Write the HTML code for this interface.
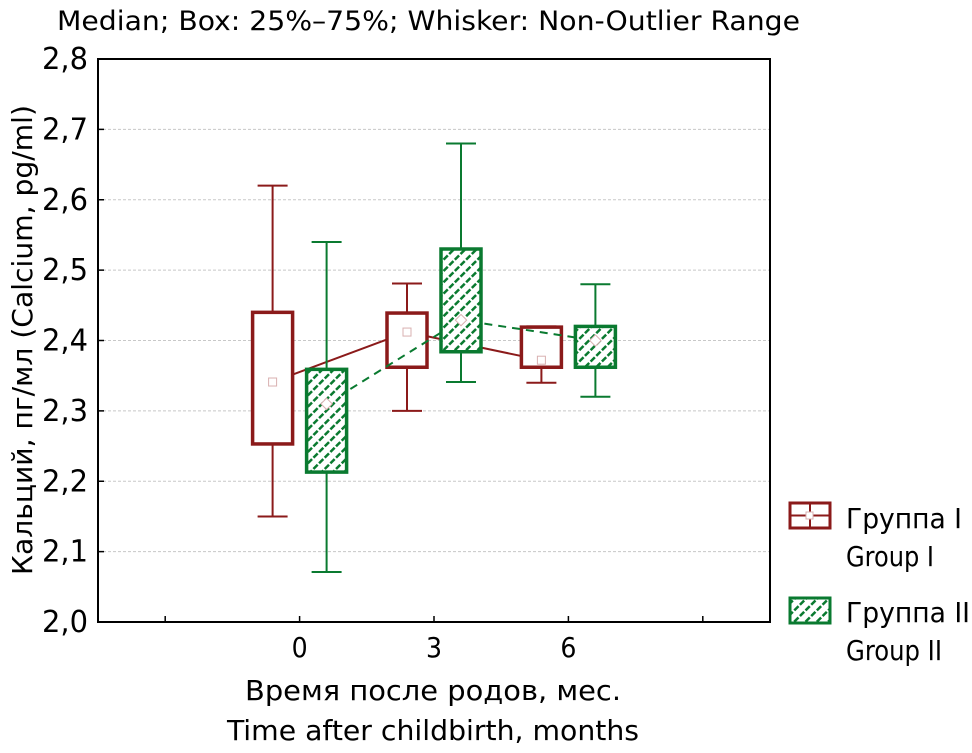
<!DOCTYPE html>
<html><head><meta charset="utf-8"><style>
body{margin:0;background:#fff}
svg{display:block;font-family:"DejaVu Sans Condensed","DejaVu Sans","Liberation Sans",sans-serif}
</style></head><body>
<svg id="chart" width="972" height="753" viewBox="0 0 972 753">
<defs>
<pattern id="hatch" patternUnits="userSpaceOnUse" width="8" height="8" patternTransform="rotate(45)">
<rect width="8" height="8" fill="#fff"/>
<line x1="0" y1="0" x2="0" y2="8" stroke="#0a7a30" stroke-width="5" stroke-dasharray="6 2"/>
</pattern>
</defs>
<text x="57" y="30" font-size="27" textLength="743" lengthAdjust="spacingAndGlyphs">Median; Box: 25%–75%; Whisker: Non-Outlier Range</text>
<g id="grid"></g>
<g id="plot"></g>
<rect x="98" y="59" width="672" height="563" fill="none" stroke="#000" stroke-width="2"/>
<text transform="translate(32,340) rotate(-90)" text-anchor="middle" font-size="28" textLength="470" lengthAdjust="spacingAndGlyphs">Кальций, пг/мл (Calcium, pg/ml)</text>
<text x="433" y="700" text-anchor="middle" font-size="28" textLength="376" lengthAdjust="spacingAndGlyphs">Время после родов, мес.</text>
<text x="433" y="740" text-anchor="middle" font-size="28" textLength="412" lengthAdjust="spacingAndGlyphs">Time after childbirth, months</text>
<g>
<g>
<rect x="790" y="503" width="40" height="25" fill="#fff" stroke="#8b1a1a" stroke-width="3"/>
<line x1="790" y1="515.5" x2="830" y2="515.5" stroke="#8b1a1a" stroke-width="2"/>
<line x1="810" y1="503" x2="810" y2="528" stroke="#8b1a1a" stroke-width="2"/>
<rect x="806" y="512" width="7" height="7" fill="#fff" stroke="#d9b0b0"/>
<text x="846" y="528" font-size="28" textLength="116" lengthAdjust="spacingAndGlyphs">Группа I</text>
<text x="846" y="566" font-size="28" textLength="88" lengthAdjust="spacingAndGlyphs">Group I</text>
</g>
<g>
<rect x="790" y="598" width="40" height="25" fill="url(#hatch)" stroke="#0a7a30" stroke-width="3"/>
<text x="846" y="622" font-size="28" textLength="124" lengthAdjust="spacingAndGlyphs">Группа II</text>
<text x="846" y="660" font-size="28" textLength="96" lengthAdjust="spacingAndGlyphs">Group II</text>
</g>
</g>
</svg>
<script>
const categories = ['0','3','6'];
const yTicks = [2.0,2.1,2.2,2.3,2.4,2.5,2.6,2.7,2.8];
const yTickLabels = ['2,0','2,1','2,2','2,3','2,4','2,5','2,6','2,7','2,8'];
const g1Min = [2.15,2.30,2.34];
const g1Q1 = [2.253,2.362,2.362];
const g1Median = [2.341,2.412,2.372];
const g1Q3 = [2.44,2.439,2.419];
const g1Max = [2.62,2.481,2.42];
const g2Min = [2.071,2.341,2.32];
const g2Q1 = [2.213,2.384,2.362];
const g2Median = [2.31,2.429,2.40];
const g2Q3 = [2.359,2.53,2.42];
const g2Max = [2.54,2.68,2.48];

const NS='http://www.w3.org/2000/svg';
const L=98,R=770,T=59,B=622,ymin=2.0,ymax=2.8;
const y=v=>B-(v-ymin)/(ymax-ymin)*(B-T);
const slot=(R-L)/5;
const x=i=>L+slot*(i+1.5);
function mk(tag,attrs,parent){const e=document.createElementNS(NS,tag);for(const k in attrs)e.setAttribute(k,attrs[k]);parent.appendChild(e);return e;}
const grid=document.getElementById('grid'), plot=document.getElementById('plot'), svg=document.getElementById('chart');
yTicks.forEach((t,i)=>{
  if(i>0&&i<yTicks.length-1){const gl=mk('line',{x1:L,x2:R,y1:y(t),y2:y(t),stroke:'#c8c8c8','stroke-width':1,'stroke-dasharray':'3 2'},grid);
  
  }
  const tk=mk('line',{x1:L,x2:L+6,y1:y(t),y2:y(t),stroke:'#000','stroke-width':1.5},grid);
  
  
  const lb=mk('text',{x:88,y:y(t)+10,'text-anchor':'end','font-size':30,textLength:46,lengthAdjust:'spacingAndGlyphs'},svg);
  lb.textContent=yTickLabels[i];
  
  
});
for(let k=0;k<5;k++){const xx=L+slot*(k+0.5);
  const tk=mk('line',{x1:xx,x2:xx,y1:B,y2:B-6,stroke:'#000','stroke-width':1.5},grid);
  
  }
categories.forEach((c,i)=>{const lb=mk('text',{x:x(i),y:657,'text-anchor':'middle','font-size':28},svg);
  lb.textContent=c;
  
  });
function series(name,off,col,fill,mn,q1,md,q3,mx,dash){
  const pts=md.map((v,i)=>(x(i)+off)+','+y(v)).join(' ');
  const ln=mk('polyline',{points:pts,fill:'none',stroke:col,'stroke-width':2,'stroke-dasharray':dash},plot);
  
  
  categories.forEach((c,i)=>{
    const cx=x(i)+off;
    const g=mk('g',{},plot);
    
    
    mk('line',{x1:cx,x2:cx,y1:y(mx[i]),y2:y(q3[i]),stroke:col,'stroke-width':2},g);
    mk('line',{x1:cx,x2:cx,y1:y(q1[i]),y2:y(mn[i]),stroke:col,'stroke-width':2},g);
    mk('line',{x1:cx-15,x2:cx+15,y1:y(mx[i]),y2:y(mx[i]),stroke:col,'stroke-width':2},g);
    mk('line',{x1:cx-15,x2:cx+15,y1:y(mn[i]),y2:y(mn[i]),stroke:col,'stroke-width':2},g);
    mk('rect',{x:cx-20,y:y(q3[i]),width:40,height:y(q1[i])-y(q3[i]),fill:fill,stroke:col,'stroke-width':3.5},g);
    mk('rect',{x:cx-4,y:y(md[i])-4,width:8,height:8,fill:'#fff',stroke:'#d9b0b0','stroke-width':1,transform:off>0?`rotate(45 ${cx} ${y(md[i])})`:''},g);
  });
}
series('group1',-27,'#8b1a1a','#fff',g1Min,g1Q1,g1Median,g1Q3,g1Max,'');
series('group2',27,'#0a7a30','url(#hatch)',g2Min,g2Q1,g2Median,g2Q3,g2Max,'8 6');
</script>
</body></html>
